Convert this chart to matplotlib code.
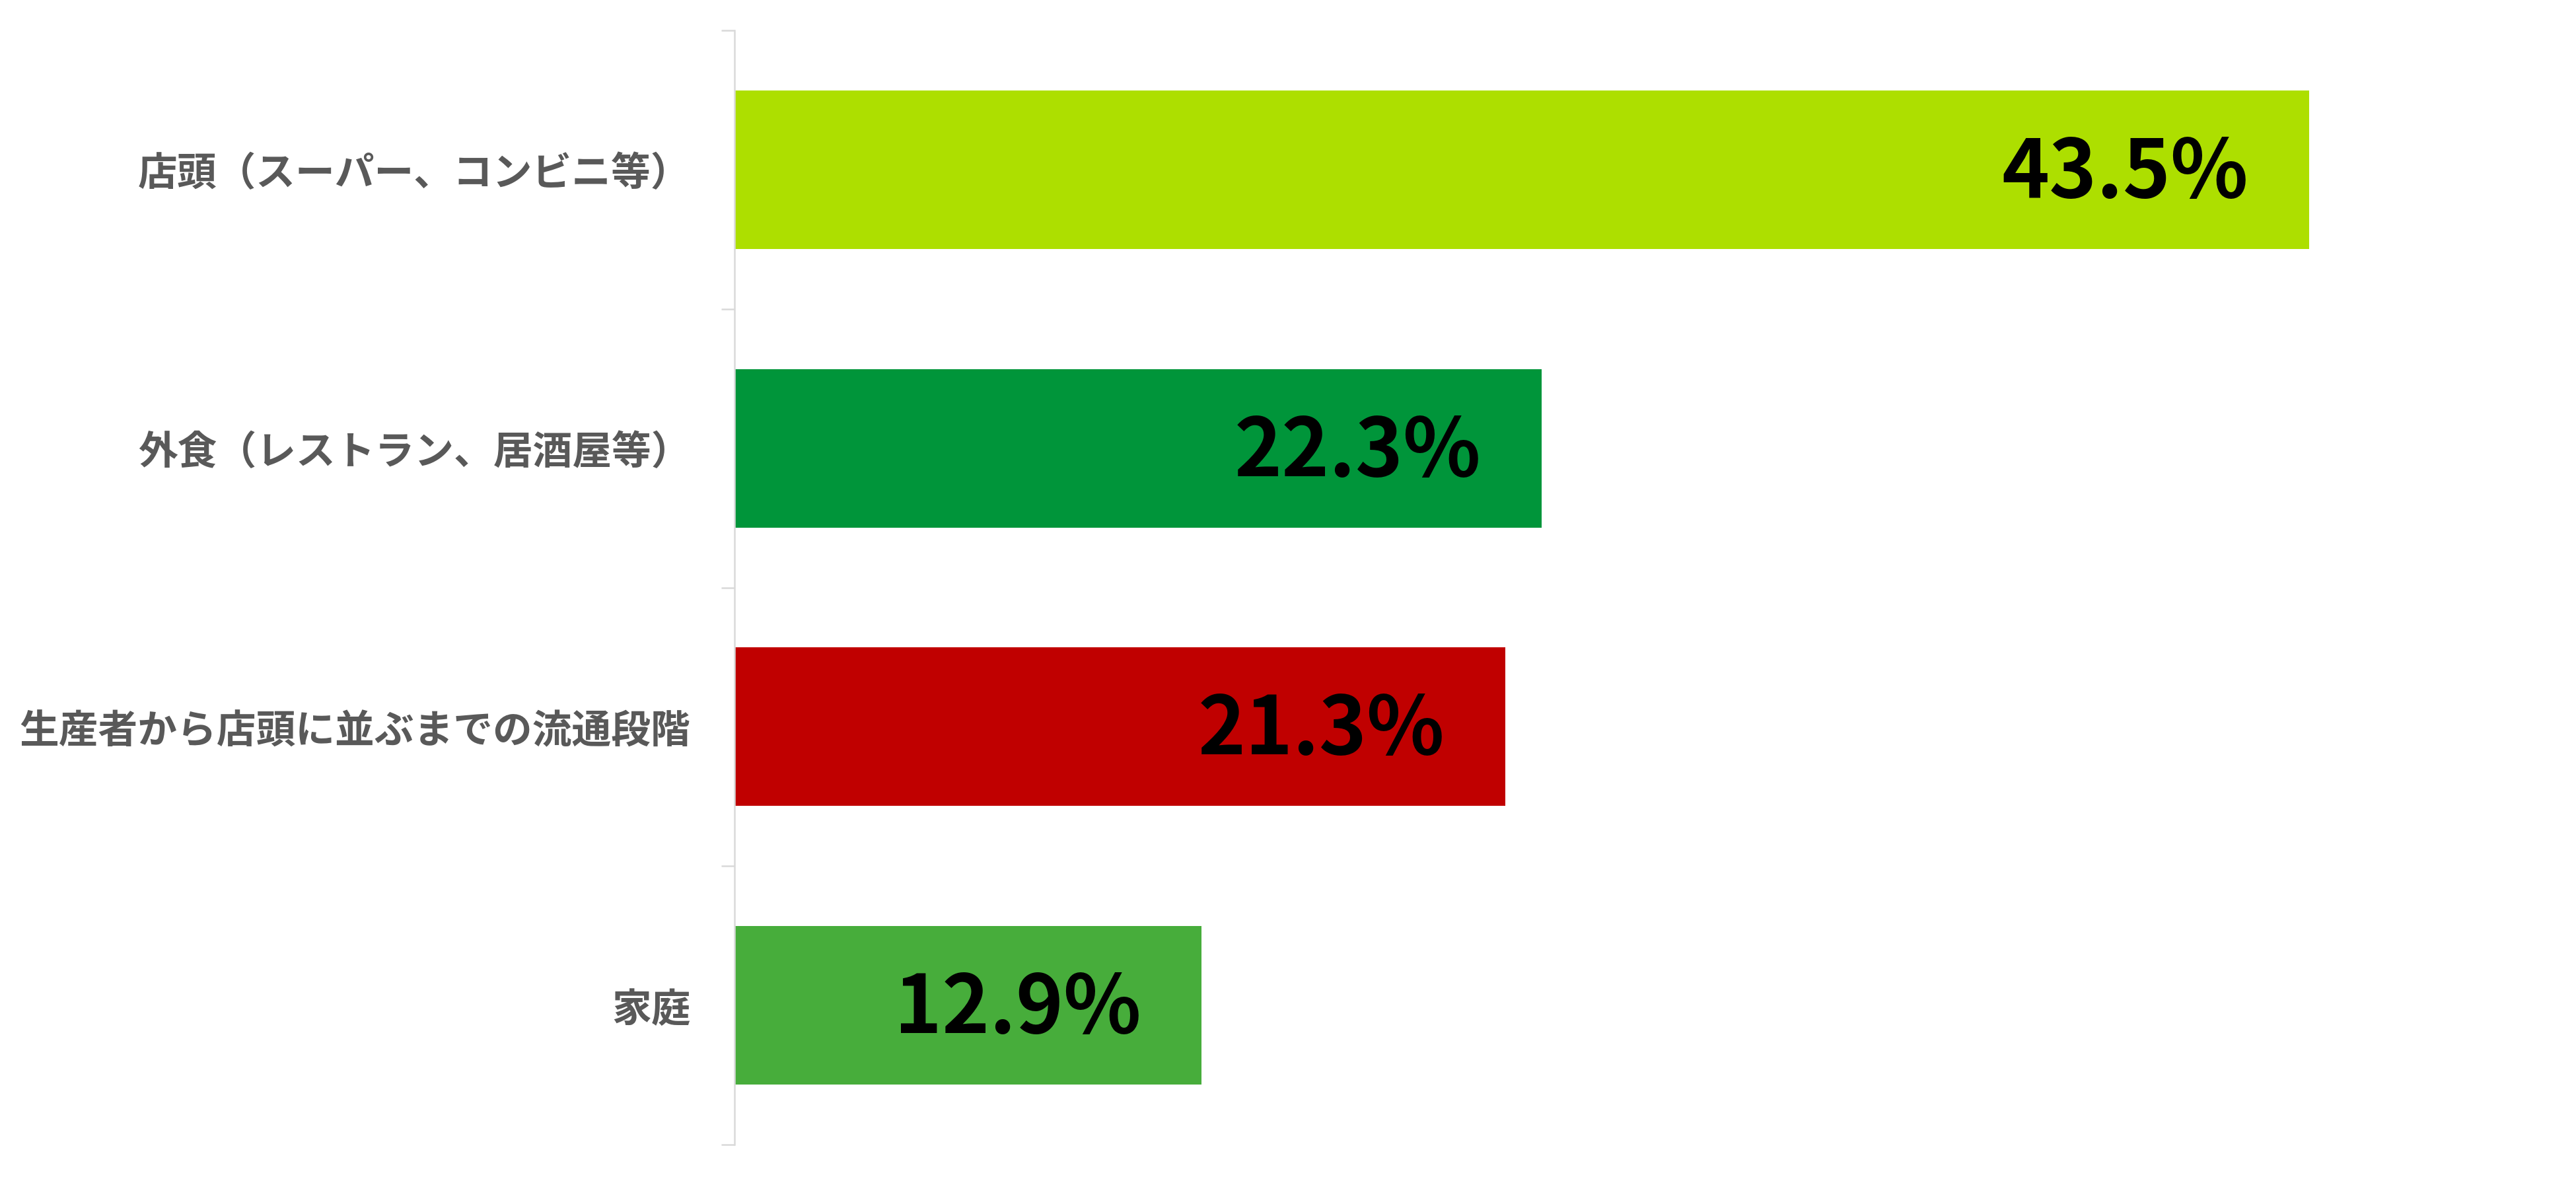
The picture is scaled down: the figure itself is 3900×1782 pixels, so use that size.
import matplotlib
matplotlib.use("Agg")
import matplotlib.pyplot as plt

plt.rcParams['font.family'] = ['Noto Sans CJK JP', 'DejaVu Sans']

categories = ["店頭（スーパー、コンビニ等）", "外食（レストラン、居酒屋等）",
              "生産者から店頭に並ぶまでの流通段階", "家庭"]
values = [43.5, 22.3, 21.3, 12.9]
colors = ["#ADDF00", "#00953A", "#C00000", "#47AD3B"]
value_labels = ["43.5%", "22.3%", "21.3%", "12.9%"]

fig = plt.figure(figsize=(39, 17.83), dpi=100)
ax = fig.add_axes([1112/3900, 1 - 1734/1783, (3852-1112)/3900, 1687/1783])

ypos = list(range(len(categories)))
bars = ax.barh(ypos, values, height=0.569, color=colors, zorder=2)
ax.set_ylim(len(categories) - 0.5, -0.5)
ax.set_xlim(0, 50)

ax.set_yticks([y for y in ypos])
ax.set_yticklabels(categories, fontsize=43, fontweight='bold', color='#595959')
ax.tick_params(axis='y', which='major', length=0, pad=48)
ax.set_yticks([y - 0.5 for y in ypos] + [len(categories) - 0.5], minor=True)
ax.tick_params(axis='y', which='minor', length=14.4, width=1.8, color='#D9D9D9')
ax.set_xticks([])

for s in ['top', 'right', 'bottom']:
    ax.spines[s].set_visible(False)
ax.spines['left'].set_color('#D9D9D9')
ax.spines['left'].set_linewidth(1.8)

for b, lab in zip(bars, value_labels):
    ax.annotate(lab, xy=(b.get_width(), b.get_y() + b.get_height() / 2),
                xytext=(-66, -4), textcoords='offset points',
                ha='right', va='center', fontsize=88, fontweight='bold',
                color='black')

fig.savefig("out.png", dpi=100, facecolor='white')
